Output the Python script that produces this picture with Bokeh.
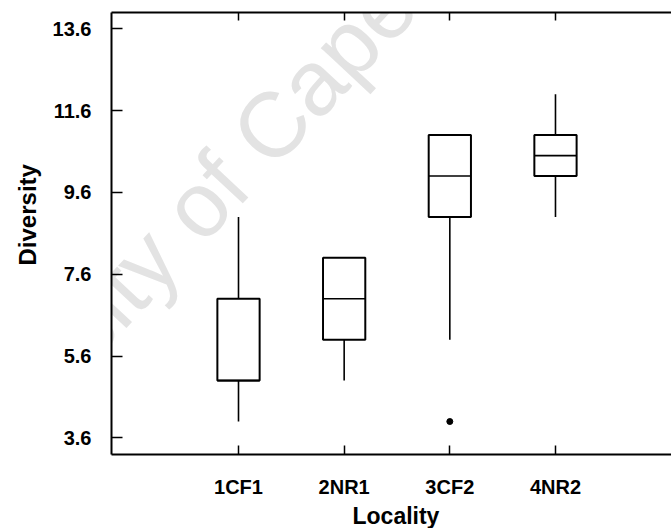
import math
from bokeh.plotting import figure
from bokeh.models import Range1d, FixedTicker, LinearAxis, Label, Title
from bokeh.embed import file_html
from bokeh.resources import INLINE

# ---- data ----
localities = ["1CF1", "2NR1", "3CF2", "4NR2"]
q1 = [5.0, 6.0, 9.0, 10.0]
medians = [5.0, 7.0, 10.0, 10.5]
q3 = [7.0, 8.0, 11.0, 11.0]
whisker_low = [4.0, 5.0, 6.0, 9.0]
whisker_high = [9.0, 8.0, 11.0, 12.0]
outlier_locality = ["3CF2"]
outlier_values = [4.0]
y_ticks = [3.6, 5.6, 7.6, 9.6, 11.6, 13.6]
x_title = "Locality"
y_title = "Diversity"
watermark = "University of Cape Town"

# ---- layout / style ----
FONT = "Liberation Sans"
half = 0.2
xpos = [i + 1 for i in range(len(localities))]
x_lo, x_hi = -0.202, 5.098
y_lo, y_hi = 3.194, 13.997

p = figure(width=671, height=528, output_backend="svg", toolbar_location=None,
           x_range=Range1d(x_lo, x_hi), y_range=Range1d(y_lo, y_hi),
           min_border_left=111, min_border_right=0, min_border_top=12,
           min_border_bottom=72)
p.outline_line_color = None
p.grid.visible = False
p.background_fill_color = "white"
p.border_fill_color = "white"

# watermark (underlay)
wm = Label(x=0.867, y=10.0, text=watermark, angle=math.radians(47),
           text_align="center", text_baseline="alphabetic",
           text_font=FONT, text_font_size="92px", text_color="#e3e3e3",
           level="underlay")
p.add_layout(wm)

# left axis
ya = p.yaxis[0]
ya.ticker = FixedTicker(ticks=y_ticks)
ya.major_tick_in = 11
ya.major_tick_out = 0
ya.minor_tick_in = 0
ya.minor_tick_out = 0
ya.axis_line_width = 2
ya.major_tick_line_width = 1.5
ya.major_label_standoff = 20
ya.major_label_text_font = FONT
ya.major_label_text_font_style = "bold"
ya.major_label_text_font_size = "20px"
ya.major_label_text_color = "black"

# bottom axis
xa = p.xaxis[0]
xa.ticker = FixedTicker(ticks=xpos)
xa.major_label_overrides = {x: name for x, name in zip(xpos, localities)}
xa.major_tick_in = 9
xa.major_tick_out = 0
xa.minor_tick_in = 0
xa.minor_tick_out = 0
xa.axis_line_width = 2
xa.major_tick_line_width = 1.5
xa.major_label_standoff = 21
xa.major_label_text_font = FONT
xa.major_label_text_font_style = "bold"
xa.major_label_text_font_size = "20px"
xa.major_label_text_color = "black"

# top axis (ticks only)
ta = LinearAxis(ticker=FixedTicker(ticks=xpos),
                major_label_overrides={x: "" for x in xpos},
                major_label_text_font_size="8px",
                major_label_standoff=0, major_tick_in=8, major_tick_out=0,
                minor_tick_in=0, minor_tick_out=0, axis_line_width=2,
                major_tick_line_width=1.5)
p.add_layout(ta, "above")

# axis titles
p.add_layout(Title(text=y_title, align="left", offset=189, standoff=14,
                   vertical_align="top",
                   text_font=FONT, text_font_style="bold",
                   text_font_size="24px", text_color="black"), "left")
p.add_layout(Title(text=x_title, align="left", offset=241, standoff=0,
                   text_font=FONT, text_font_style="bold",
                   text_font_size="23px", text_color="black"), "below")

# whiskers
p.segment(x0=xpos, y0=whisker_low, x1=xpos, y1=q1, line_color="black", line_width=1.6)
p.segment(x0=xpos, y0=q3, x1=xpos, y1=whisker_high, line_color="black", line_width=1.6)
# boxes
p.quad(left=[x - half for x in xpos], right=[x + half for x in xpos],
       bottom=q1, top=q3, fill_color=None, line_color="black", line_width=2)
# medians
p.segment(x0=[x - half for x in xpos], y0=medians, x1=[x + half for x in xpos],
          y1=medians, line_color="black", line_width=1.6)
# outliers
ox = [xpos[localities.index(l)] for l in outlier_locality]
p.scatter(x=ox, y=outlier_values, marker="circle", size=6,
          fill_color="black", line_color="black")

open("out.html", "w").write(file_html(p, INLINE))
